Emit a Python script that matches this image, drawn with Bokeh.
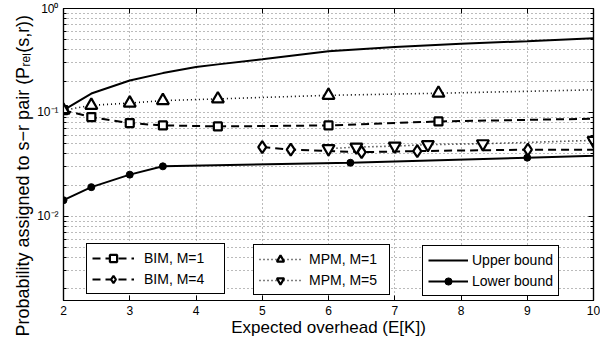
from bokeh.plotting import figure
from bokeh.models import (Range1d, FixedTicker, LinearAxis, LogAxis, Legend,
                          LegendItem, Title)
from bokeh.embed import file_html
from bokeh.resources import INLINE

# ---------------- data ----------------
x_ticks = [2, 3, 4, 5, 6, 7, 8, 9, 10]
y_ticks = [0.01, 0.1, 1.0]
y_tick_labels = ["10\u207b\u00b2", "10\u207b\u00b9", "10\u2070"]

upper_x = [2, 2.42, 3, 3.5, 4, 4.33, 5, 6, 7, 8, 9, 10]
upper_y = [0.105, 0.152, 0.203, 0.239, 0.273, 0.29, 0.325, 0.387, 0.425, 0.457, 0.485, 0.518]

lower_x = [2, 2.42, 3, 3.5, 6.33, 9.0, 11.67]
lower_y = [0.0143, 0.0191, 0.0252, 0.0303, 0.0328, 0.0367, 0.0409]

bim1_x = [2, 2.42, 3, 3.5, 4.33, 6, 7.66, 11.66]
bim1_y = [0.105, 0.0902, 0.0789, 0.075, 0.0733, 0.075, 0.0819, 0.0908]

bim4_x = [5.0, 5.43, 6.5, 7.34, 9.01, 11.0]
bim4_y = [0.0464, 0.0438, 0.0415, 0.0425, 0.0438, 0.0438]

mpm1_x = [2, 2.42, 3, 3.5, 4.33, 6, 7.66, 11.66]
mpm1_y = [0.105, 0.117, 0.123, 0.130, 0.135, 0.146, 0.153, 0.174]

mpm5_x = [6.0, 6.42, 7.0, 7.5, 8.33, 10.0]
mpm5_y = [0.0448, 0.0464, 0.0474, 0.049, 0.050, 0.0538]

x_label = "Expected overhead (E[K])"
y_label = "Probability assigned to s\u2212r pair (P\u1d63\u2091\u2097(s,r))"

# ---------------- figure ----------------
FONT = "Liberation Sans"
X0, X1 = 2, 10
Y0, Y1 = 1.55e-3, 1.0

p = figure(width=600, height=348, y_axis_type="log",
           x_range=Range1d(X0, X1), y_range=Range1d(Y0, Y1),
           output_backend="svg", toolbar_location=None,
           min_border_left=63, min_border_right=7,
           min_border_top=8, min_border_bottom=48)
p.background_fill_color = "white"
p.border_fill_color = "white"
p.outline_line_color = "black"
p.outline_line_width = 1.2

minor = []
for e in range(-3, 1):
    for k in range(2, 10):
        v = k * 10.0 ** e
        if Y0 <= v <= Y1:
            minor.append(v)

xt = FixedTicker(ticks=x_ticks)
yt = FixedTicker(ticks=y_ticks, minor_ticks=minor)

xa = p.xaxis[0]
ya = p.yaxis[0]
xa.ticker = xt
ya.ticker = yt
ya.major_label_overrides = {t: s for t, s in zip(y_ticks, y_tick_labels)}

for ax in (xa, ya):
    ax.axis_line_color = "black"
    ax.axis_line_width = 1.2
    ax.major_tick_in = 5
    ax.major_tick_out = 0
    ax.minor_tick_in = 3
    ax.minor_tick_out = 0
    ax.major_tick_line_color = "black"
    ax.minor_tick_line_color = "black"
    ax.major_label_text_font = FONT
    ax.major_label_text_font_size = "12px"
    ax.major_label_text_color = "black"
    ax.major_label_standoff = 5
xa.minor_tick_line_color = None
xa.axis_label = x_label
xa.axis_label_text_font = FONT
xa.axis_label_text_font_size = "17px"
xa.axis_label_text_font_style = "normal"
xa.axis_label_text_color = "black"
xa.axis_label_standoff = 0

# box axes (top & right) with inward ticks, no visible labels
top = LinearAxis(ticker=xt)
right = LogAxis(ticker=yt)
for ax in (top, right):
    ax.axis_line_color = "black"
    ax.axis_line_width = 1.2
    ax.major_tick_in = 5
    ax.major_tick_out = 0
    ax.minor_tick_in = 3
    ax.minor_tick_out = 0
    ax.major_tick_line_color = "black"
    ax.minor_tick_line_color = "black"
    ax.major_label_text_font_size = "1px"
    ax.major_label_text_color = None
    ax.major_label_standoff = 0
top.minor_tick_line_color = None
p.add_layout(top, "above")
p.add_layout(right, "right")

# y axis title: placed as a vertical title in the left panel
ytitle = Title(text=y_label, align="left", offset=-36,
               text_font=FONT, text_font_size="18px", text_font_style="normal",
               text_color="black", standoff=4)
p.add_layout(ytitle, "left")

# grid (MATLAB-like dotted)
p.xgrid.ticker = xt
p.ygrid.ticker = yt
p.xgrid.grid_line_color = "#777777"
p.xgrid.grid_line_dash = "1 3"
p.ygrid.grid_line_color = "#777777"
p.ygrid.grid_line_dash = "1 3"
p.ygrid.minor_grid_line_color = "#777777"
p.ygrid.minor_grid_line_dash = "1 3"

# ---------------- series ----------------
LW = 2
DASH = "8 5"
DOT = "1 3"

r_up = p.line(upper_x, upper_y, line_color="black", line_width=2)
r_lo_l = p.line(lower_x, lower_y, line_color="black", line_width=2)
r_lo_m = p.scatter(lower_x, lower_y, marker="circle", size=7,
                   fill_color="black", line_color="black")

r_b1_l = p.line(bim1_x, bim1_y, line_color="black", line_width=LW, line_dash=DASH)
r_b1_m = p.scatter(bim1_x, bim1_y, marker="square", size=8, fill_color="white",
                   line_color="black", line_width=2.2)

r_b4_l = p.line(bim4_x, bim4_y, line_color="black", line_width=LW, line_dash=DASH)
r_b4_m = p.scatter(bim4_x, bim4_y, marker="diamond", size=12, fill_color="white",
                   line_color="black", line_width=2.2)

r_m1_l = p.line(mpm1_x, mpm1_y, line_color="black", line_width=1.6, line_dash=DOT)
r_m1_m = p.scatter(mpm1_x, mpm1_y, marker="triangle", size=12, fill_color="white",
                   line_color="black", line_width=2.2)

r_m5_l = p.line(mpm5_x, mpm5_y, line_color="black", line_width=1.6, line_dash=DOT)
r_m5_m = p.scatter(mpm5_x, mpm5_y, marker="inverted_triangle", size=12,
                   fill_color="white", line_color="black", line_width=2.2)

# ---------------- legends ----------------
def make_legend(items, loc, glyph_w, standoff, label_w):
    lg = Legend(items=items, location=loc)
    lg.orientation = "vertical"
    lg.glyph_width = glyph_w
    lg.glyph_height = 18
    lg.label_height = 18
    lg.label_width = label_w
    lg.spacing = 3
    lg.padding = 5
    lg.margin = 0
    lg.label_standoff = standoff
    lg.border_line_color = "black"
    lg.border_line_width = 1.2
    lg.border_line_alpha = 1
    lg.background_fill_color = "white"
    lg.background_fill_alpha = 1
    lg.label_text_font = FONT
    lg.label_text_font_size = "14px"
    lg.label_text_color = "black"
    return lg

lg1 = make_legend([LegendItem(label="BIM, M=1", renderers=[r_b1_l, r_b1_m]),
                   LegendItem(label="BIM, M=4", renderers=[r_b4_l, r_b4_m])],
                  (23, 6), 42, 10, 75)
lg2 = make_legend([LegendItem(label="MPM, M=1", renderers=[r_m1_l, r_m1_m]),
                   LegendItem(label="MPM, M=5", renderers=[r_m5_l, r_m5_m])],
                  (190, 5), 42, 8, 75)
lg3 = make_legend([LegendItem(label="Upper bound", renderers=[r_up]),
                   LegendItem(label="Lower bound", renderers=[r_lo_l, r_lo_m])],
                  (359, 4), 40, 4, 81)
for lg in (lg1, lg2, lg3):
    p.add_layout(lg, "center")

open("out.html", "w").write(file_html(p, INLINE))
